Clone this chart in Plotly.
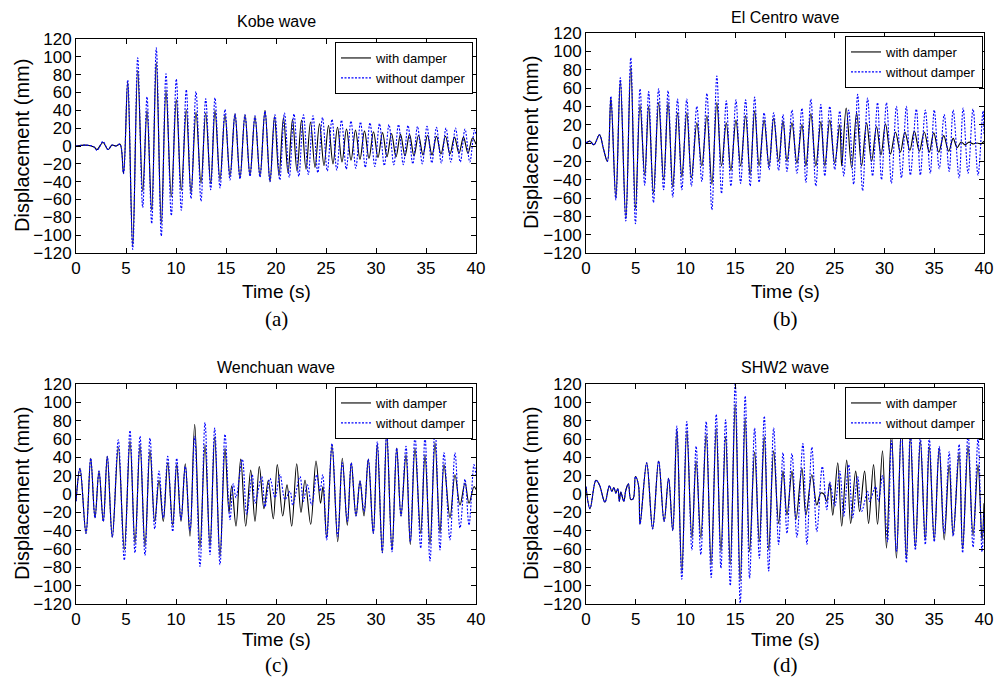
import plotly.graph_objects as go

# ---------------- data: extrema (time s, displacement mm) ----------------
kobe_with = [(0,0),(1.0,1),(1.8,-1),(2.1,-4),(2.7,4),(3.2,-4),(3.6,1),(4.0,0),(4.4,2),(4.75,-31),(5.17,72),(5.67,-112),
    (6.17,85),(6.67,-51),(7.1,40),(7.57,-72),(8.03,94),(8.53,-87),(9.0,63),(9.53,-57),(10.03,52),(10.53,-50),(11.03,41),
    (11.5,-53),(12.0,38),(12.5,-42),(12.97,37),(13.47,-42),(13.9,40),(14.4,-38),(14.9,35),(15.4,-34),(15.9,36),(16.4,-36),
    (16.9,35),(17.4,-33),(17.9,33),(18.4,-34),(18.9,40),(19.4,-40),(19.85,33),(20.3,-33),(20.75,32),(21.2,-30),(21.65,30),
    (22.1,-28),(22.55,29),(23.0,-26),(23.45,27),(23.9,-24),(24.35,25),(24.8,-22),(25.25,23),(25.7,-20),(26.15,21),(26.6,-18),
    (27.05,19),(27.5,-16),(27.95,18),(28.4,-15),(28.85,17),(29.3,-14),(29.75,16),(30.2,-13),(30.65,15),(31.1,-12),(31.55,14),
    (32.0,-12),(32.45,13),(32.9,-11),(33.35,13),(33.8,-11),(34.25,12),(34.7,-10),(35.15,12),(35.6,-10),(36.05,11),(36.5,-9),
    (36.95,11),(37.4,-9),(37.85,10),(38.3,-8),(38.75,10),(39.2,-8),(39.65,9),(40.0,2)]
kobe_without = [(0,0),(1.0,1),(1.8,-1),(2.1,-5),(2.7,5),(3.2,-4),(3.6,1),(4.0,0),(4.4,2),(4.75,-31),(5.17,74),(5.67,-116),
    (6.17,99),(6.67,-69),(7.1,55),(7.57,-87),(8.03,110),(8.53,-101),(9.0,81),(9.53,-78),(10.03,75),(10.53,-72),(11.03,63),
    (11.5,-59),(12.0,61),(12.5,-62),(12.97,53),(13.47,-49),(13.9,54),(14.4,-47),(14.9,41),(15.4,-38),(15.9,36),(16.4,-37),
    (16.9,35),(17.4,-34),(17.9,34),(18.4,-35),(18.9,39),(19.4,-40),(19.9,35),(20.38,-38),(20.85,37),(21.33,-35),(21.8,36),
    (22.28,-34),(22.75,35),(23.23,-32),(23.7,34),(24.18,-30),(24.65,32),(25.13,-28),(25.6,30),(26.08,-27),(26.55,29),
    (27.03,-26),(27.5,28),(27.98,-25),(28.45,27),(28.93,-24),(29.4,26),(29.88,-23),(30.35,25),(30.83,-22),(31.3,24),
    (31.78,-21),(32.25,24),(32.73,-21),(33.2,23),(33.68,-20),(34.15,22),(34.63,-20),(35.1,22),(35.58,-19),(36.05,21),
    (36.53,-19),(37.0,20),(37.48,-18),(37.95,20),(38.43,-18),(38.9,19),(39.38,-18),(39.85,18),(40.0,12)]

elcentro_with = [(0,0),(0.4,2),(0.8,-2),(1.35,9),(1.75,-6),(2.15,-20),(2.5,49),(3.0,-60),(3.45,67),(4.0,-82),(4.5,83),
    (4.97,-72),(5.43,42),(5.9,-35),(6.3,40),(6.78,-55),(7.3,44),(7.8,-40),(8.25,44),(8.72,-48),(9.2,33),(9.63,-37),(10.13,33),
    (10.6,-38),(11.14,22),(11.64,-25),(12.15,30),(12.65,-45),(13.15,44),(13.62,-25),(14.1,22),(14.56,-30),(15.07,25),
    (15.54,-25),(16.04,30),(16.5,-35),(16.95,35),(17.4,-25),(17.9,25),(18.4,-25),(18.86,27),(19.36,-20),(19.8,24),(20.2,-20),
    (20.7,22),(21.2,-22),(21.7,20),(22.1,-25),(22.6,32),(23.1,-25),(23.6,23),(24.0,-25),(24.5,25),(25.0,-22),(25.5,20),
    (25.7,-25),(26.15,38),(26.7,-27),(27.2,33),(27.7,-25),(28.2,22),(28.7,-20),(29.2,18),(29.65,-13),(30.1,21),(30.6,-12),
    (31.1,12),(31.6,-10),(32.05,12),(32.55,-8),(33.0,13),(33.5,-9),(34.0,12),(34.5,-10),(34.95,11),(35.45,-10),(35.95,8),
    (36.45,-9),(36.9,5),(37.3,-5),(37.7,1),(38.1,-2),(38.5,1),(38.9,-1),(39.3,0),(39.7,-1),(40.0,2)]
elcentro_without = [(0,0),(0.4,2),(0.8,-2),(1.35,9),(1.75,-6),(2.15,-20),(2.5,51),(3.0,-62),(3.45,71),(4.0,-85),(4.5,93),
    (4.97,-88),(5.43,59),(5.9,-46),(6.3,56),(6.78,-65),(7.3,59),(7.8,-51),(8.25,57),(8.72,-59),(9.2,48),(9.63,-51),(10.13,48),
    (10.6,-47),(11.14,40),(11.64,-42),(12.15,54),(12.65,-73),(13.15,73),(13.62,-55),(14.1,46),(14.56,-47),(15.07,47),
    (15.54,-44),(16.04,47),(16.5,-47),(16.95,50),(17.4,-43),(17.9,33),(18.4,-29),(18.86,33),(19.36,-30),(19.8,31),(20.2,-31),
    (20.7,36),(21.2,-33),(21.7,38),(22.1,-43),(22.6,48),(23.1,-47),(23.6,42),(24.0,-36),(24.5,40),(25.0,-29),(25.5,35),
    (25.9,-36),(26.4,36),(26.9,-45),(27.3,53),(27.8,-52),(28.3,49),(28.8,-36),(29.3,44),(29.7,-40),(30.2,44),(30.7,-44),
    (31.2,40),(31.7,-38),(32.2,40),(32.6,-35),(33.2,37),(33.6,-35),(34.1,36),(34.6,-33),(35.0,36),(35.5,-28),(36.0,31),
    (36.5,-31),(36.9,36),(37.5,-38),(37.9,38),(38.4,-33),(38.9,37),(39.4,-35),(39.9,35),(40.0,10)]

wenchuan_with = [(0,-8),(0.4,28),(1.0,-43),(1.47,39),(1.9,-26),(2.3,25),(2.73,-30),(3.13,41),(3.63,-47),(4.23,51),
    (4.83,-61),(5.4,58),(5.9,-54),(6.4,54),(6.9,-57),(7.4,48),(7.87,-30),(8.3,15),(8.73,-30),(9.17,34),(9.67,-34),(10.07,32),
    (10.5,-30),(10.93,33),(11.4,-46),(11.87,76),(12.4,-59),(12.9,54),(13.4,-57),(13.87,62),(14.4,-68),(14.9,50),(15.3,-20),
    (15.57,9),(16.0,-35),(16.47,38),(16.97,-35),(17.47,26),(17.9,-30),(18.33,30),(18.8,-16),(19.23,15),(19.73,-27),
    (20.13,32),(20.67,-24),(21.1,10),(21.57,-35),(22.07,33),(22.5,-20),(22.9,15),(23.47,-33),(24.0,36),(24.45,-10),
    (24.7,8),(25.07,-48),(25.6,54),(26.17,-52),(26.63,39),(27.13,-34),(27.53,34),(28.0,-24),(28.4,14),(28.8,-24),(29.23,38),
    (29.73,-43),(30.13,54),(30.63,-64),(31.07,66),(31.6,-61),(32.07,50),(32.5,-24),(33.0,43),(33.43,-55),(33.9,50),
    (34.47,-43),(34.9,43),(35.4,-55),(35.9,56),(36.4,-43),(36.8,32),(37.4,-26),(37.9,21),(38.4,-12),(38.9,12),(39.3,-10),
    (39.8,8),(40.0,5)]
wenchuan_without = [(0,-8),(0.4,28),(1.0,-43),(1.47,39),(1.9,-26),(2.3,25),(2.73,-30),(3.13,41),(3.63,-47),(4.23,59),
    (4.83,-72),(5.4,69),(5.9,-64),(6.4,63),(6.9,-67),(7.4,61),(7.87,-38),(8.3,25),(8.73,-26),(9.17,41),(9.67,-41),(10.07,39),
    (10.5,-28),(10.93,30),(11.4,-40),(11.87,63),(12.4,-79),(12.9,78),(13.4,-66),(13.87,72),(14.4,-77),(14.9,65),(15.4,-28),
    (15.73,11),(16.0,-4),(16.63,38),(17.07,-22),(17.63,21),(17.9,-10),(18.57,19),(18.9,-14),(19.4,17),(19.9,-4),(20.4,21),
    (20.9,-6),(21.4,3),(21.67,-12),(22.4,19),(22.73,-8),(23.13,10),(23.57,-12),(24.07,21),(24.4,3),(24.67,21),(25.07,-50),
    (25.6,55),(26.17,-46),(26.63,34),(27.13,-30),(27.53,34),(28.0,-24),(28.4,14),(28.8,-19),(29.23,38),(29.73,-43),
    (30.13,57),(30.63,-64),(31.07,68),(31.6,-63),(32.07,50),(32.5,-24),(33.0,52),(33.43,-52),(33.9,63),(34.47,-59),
    (34.9,63),(35.4,-73),(35.9,74),(36.4,-61),(36.8,45),(37.4,-50),(37.9,45),(38.4,-37),(38.9,16),(39.3,-34),(39.8,32),
    (40.0,20)]

shw2_with = [(0,8),(0.4,-16),(1.0,15),(1.35,10),(1.9,-9),(2.35,9),(2.6,3),(2.8,7),(3.0,1),(3.2,6),(3.35,-8),(3.5,2),
    (3.8,-8),(4.0,4),(4.26,11),(4.5,-6),(4.75,-5),(4.97,19),(5.27,10),(5.43,-33),(6.1,34),(6.7,-38),(7.3,36),(7.85,-30),
    (8.3,17),(8.72,-40),(9.13,70),(9.63,-85),(10.13,69),(10.64,-48),(11.07,36),(11.54,-48),(12.08,65),(12.58,-77),(13.09,72),
    (13.56,-63),(14.03,63),(14.5,-77),(15.0,98),(15.5,-95),(16.0,83),(16.44,-63),(16.95,46),(17.42,-52),(17.92,63),
    (18.36,-61),(18.86,47),(19.36,-32),(19.8,25),(20.2,-23),(20.7,25),(21.1,-28),(21.7,28),(22.1,-23),(22.7,21),(23.2,-12),
    (23.6,1),(23.9,0),(24.2,-8),(24.5,12),(24.8,-23),(25.3,34),(25.7,-35),(26.2,37),(26.6,-32),(27.1,25),(27.5,-19),
    (28.0,25),(28.4,-32),(28.9,32),(29.3,-33),(29.8,47),(30.2,-59),(30.7,67),(31.2,-70),(31.7,75),(32.2,-70),(32.6,63),
    (33.1,-58),(33.6,58),(34.1,-50),(34.5,52),(35.0,-50),(35.5,50),(36.0,-50),(36.5,32),(36.9,-45),(37.5,45),(37.85,-60),
    (38.4,52),(38.9,-45),(39.4,32),(39.8,-50),(40.0,-10)]
shw2_without = [(0,8),(0.4,-16),(1.0,15),(1.35,10),(1.9,-9),(2.35,9),(2.6,3),(2.8,7),(3.0,1),(3.2,6),(3.35,-8),(3.5,2),
    (3.8,-8),(4.0,4),(4.26,11),(4.5,-6),(4.75,-5),(4.97,19),(5.27,10),(5.43,-33),(6.1,34),(6.7,-38),(7.3,36),(7.85,-30),
    (8.3,17),(8.72,-40),(9.13,74),(9.63,-93),(10.13,79),(10.64,-61),(11.07,52),(11.54,-66),(12.08,79),(12.58,-91),(13.09,87),
    (13.56,-81),(14.03,81),(14.5,-100),(15.0,121),(15.5,-119),(16.0,107),(16.44,-92),(16.95,72),(17.42,-70),(17.92,85),
    (18.36,-84),(18.86,72),(19.36,-55),(19.8,45),(20.2,-43),(20.7,44),(21.2,-47),(21.8,55),(22.2,-55),(22.7,51),(23.2,-41),
    (23.75,30),(24.2,-17),(24.5,13),(25.0,-13),(25.5,25),(25.9,-24),(26.4,32),(26.8,-26),(27.3,19),(27.7,-19),(28.3,3),
    (28.5,-8),(29.1,8),(29.4,-8),(29.8,20),(30.3,-52),(30.7,58),(31.2,-63),(31.7,70),(32.2,-75),(32.6,71),(33.1,-61),
    (33.6,62),(34.1,-55),(34.5,61),(35.0,-52),(35.5,52),(36.0,-43),(36.5,46),(36.9,-46),(37.5,54),(37.85,-64),(38.4,65),
    (38.9,-58),(39.4,61),(39.8,-63),(40.0,-20)]

titles = ["Kobe wave", "El Centro wave", "Wenchuan wave", "SHW2 wave"]
sublabels = ["(a)", "(b)", "(c)", "(d)"]
series_names = ["with damper", "without damper"]
x_ticks = [0, 5, 10, 15, 20, 25, 30, 35, 40]
y_ticks = [-120, -100, -80, -60, -40, -20, 0, 20, 40, 60, 80, 100, 120]

# ---------------- layout in pixels ----------------
W, H = 995, 679
def px(x): return x / W
def py(y): return 1 - y / H

panels = [
    dict(data=(kobe_with, kobe_without), x0=76, x1=476, y0=39, y1=253, leg=(473, 42), cx=276, ty=22, tt=291, st=319, yl=(22, 146)),
    dict(data=(elcentro_with, elcentro_without), x0=586, x1=984, y0=33, y1=253, leg=(983, 36), cx=785, ty=17, tt=291, st=319, yl=(531, 143)),
    dict(data=(wenchuan_with, wenchuan_without), x0=76, x1=476, y0=384, y1=604, leg=(473, 387), cx=276, ty=367, tt=639, st=665, yl=(22, 494)),
    dict(data=(shw2_with, shw2_without), x0=586, x1=984, y0=384, y1=604, leg=(983, 387), cx=785, ty=367, tt=639, st=665, yl=(531, 494)),
]

SANS = "Liberation Sans, Arial, Helvetica, sans-serif"
SERIF = "Liberation Serif, Times New Roman, serif"

fig = go.Figure()
annotations = []
layout = {}
for i, p in enumerate(panels):
    n = "" if i == 0 else str(i + 1)
    xa, ya = "x" + n, "y" + n
    lg = "legend" + n
    w_pts, wo_pts = p["data"]
    fig.add_trace(go.Scatter(x=[a for a, b in w_pts], y=[b for a, b in w_pts], mode="lines",
                             name=series_names[0], xaxis=xa, yaxis=ya, legend=lg,
                             line=dict(color="black", width=1.1, shape="spline", smoothing=1.0)))
    fig.add_trace(go.Scatter(x=[a for a, b in wo_pts], y=[b for a, b in wo_pts], mode="lines",
                             name=series_names[1], xaxis=xa, yaxis=ya, legend=lg,
                             line=dict(color="#0000ff", width=1.1, dash="2px,1.5px", shape="spline", smoothing=1.0)))
    axcommon = dict(showgrid=False, zeroline=False, showline=True, linecolor="black", linewidth=1,
                    mirror="ticks", ticks="inside", ticklen=5, tickcolor="black", automargin=False,
                    tickfont=dict(family=SANS, size=17, color="black"))
    layout["xaxis" + n] = dict(axcommon, domain=[px(p["x0"]), px(p["x1"])], range=[0, 40],
                               tickvals=x_ticks, anchor=ya)
    layout["yaxis" + n] = dict(axcommon, domain=[py(p["y1"]), py(p["y0"])], range=[-120, 120],
                               tickvals=y_ticks, anchor=xa)
    layout[lg] = dict(x=px(p["leg"][0]), y=py(p["leg"][1]), xanchor="right", yanchor="top",
                      bgcolor="white", bordercolor="black", borderwidth=1,
                      font=dict(family=SANS, size=13, color="black"), itemwidth=30,
                      tracegroupgap=0)
    annotations.append(dict(text=titles[i], x=px(p["cx"]), y=py(p["ty"]), xref="paper", yref="paper",
                            showarrow=False, xanchor="center", yanchor="middle",
                            font=dict(family=SANS, size=16, color="black")))
    annotations.append(dict(text="Time (s)", x=px(p["cx"]), y=py(p["tt"]), xref="paper", yref="paper",
                            showarrow=False, xanchor="center", yanchor="middle",
                            font=dict(family=SANS, size=19, color="black")))
    annotations.append(dict(text=sublabels[i], x=px(p["cx"]), y=py(p["st"]), xref="paper", yref="paper",
                            showarrow=False, xanchor="center", yanchor="middle",
                            font=dict(family=SERIF, size=21, color="black")))
    annotations.append(dict(text="Displacement (mm)", x=px(p["yl"][0]), y=py(p["yl"][1]), xref="paper", yref="paper",
                            showarrow=False, xanchor="center", yanchor="middle", textangle=-90,
                            font=dict(family=SANS, size=20, color="black")))

fig.update_layout(width=W, height=H, margin=dict(l=0, r=0, t=0, b=0, autoexpand=False), paper_bgcolor="white",
                  plot_bgcolor="white", annotations=annotations, **layout)
fig.write_html("out.html", config={"displayModeBar": False},
               post_script="document.body.style.margin='0';document.body.style.padding='0';document.body.style.overflow='hidden';")
